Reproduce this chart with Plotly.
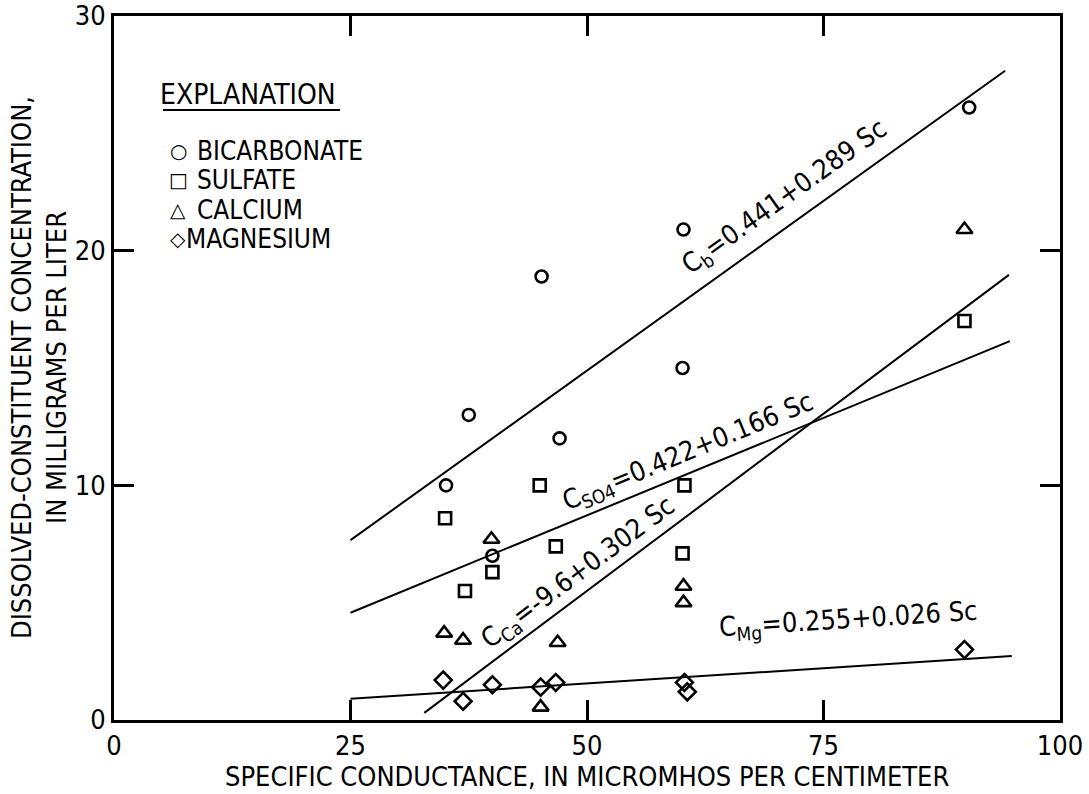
import math
import plotly.graph_objects as go

# Specific conductance (micromhos per centimeter) for each sample
sc_bicarbonate = [35.1, 37.5, 40.0, 45.2, 47.1, 60.1, 60.2, 90.4]
bicarbonate = [10.0, 13.0, 7.0, 18.9, 12.0, 15.0, 20.9, 26.1]

sc_sulfate = [35.0, 37.1, 40.0, 45.0, 46.7, 60.1, 60.3, 89.9]
sulfate = [8.6, 5.5, 6.3, 10.0, 7.4, 7.1, 10.0, 17.0]

sc_calcium = [34.9, 36.9, 39.9, 45.1, 46.9, 60.2, 60.2, 89.9]
calcium = [3.7, 3.4, 7.7, 0.55, 3.3, 5.7, 5.0, 20.9]

sc_magnesium = [34.8, 36.9, 40.0, 45.1, 46.7, 60.3, 60.6, 89.9]
magnesium = [1.7, 0.8, 1.5, 1.4, 1.6, 1.6, 1.2, 3.0]

# Regression fits: C = intercept + slope * Sc, drawn over the fitted range
fits = {
    "b":   {"intercept": 0.441, "slope": 0.289, "sc_range": (25.0, 94.2)},
    "SO4": {"intercept": 0.422, "slope": 0.166, "sc_range": (25.0, 94.7)},
    "Ca":  {"intercept": -9.6,  "slope": 0.302, "sc_range": (32.8, 94.6)},
    "Mg":  {"intercept": 0.255, "slope": 0.026, "sc_range": (25.0, 94.9)},
}
fit_labels = {
    "b":   "C<sub>b</sub>=0.441+0.289 Sc",
    "SO4": "C<sub>SO4</sub>=0.422+0.166 Sc",
    "Ca":  "C<sub>Ca</sub>=-9.6+0.302 Sc",
    "Mg":  "C<sub>Mg</sub>=0.255+0.026 Sc",
}

legend_names = ["BICARBONATE", "SULFATE", "CALCIUM", "MAGNESIUM"]
legend_glyphs = ["\u25cb", "\u25a1", "\u25b3", "\u25c7"]

x_ticks = [0, 25, 50, 75, 100]
y_ticks = [0, 10, 20, 30]

x_title = "SPECIFIC CONDUCTANCE, IN MICROMHOS PER CENTIMETER"
y_title = "DISSOLVED-CONSTITUENT CONCENTRATION,<br>IN MILLIGRAMS PER LITER"

FONT = "Liberation Sans Narrow, DejaVu Sans Condensed, Liberation Sans, sans-serif"
W, H = 1089, 794
M = dict(l=114, r=29, t=16, b=74)
X_RANGE = (0, 100)
Y_RANGE = (0, 30)
plot_w = W - M["l"] - M["r"]
plot_h = H - M["t"] - M["b"]
px_per_x = plot_w / (X_RANGE[1] - X_RANGE[0])
px_per_y = plot_h / (Y_RANGE[1] - Y_RANGE[0])


def paper_x(px):
    return (px - M["l"]) / plot_w


def paper_y(py):
    return (H - M["b"] - py) / plot_h


fig = go.Figure()

marker_line = dict(color="black", width=2.6)
series = [
    ("BICARBONATE", sc_bicarbonate, bicarbonate, "circle-open", 12),
    ("SULFATE", sc_sulfate, sulfate, "square-open", 12),
    ("CALCIUM", sc_calcium, calcium, "triangle-up-open", 14),
    ("MAGNESIUM", sc_magnesium, magnesium, "diamond-open", 13),
]
for name, xs, ys, sym, size in series:
    fig.add_trace(go.Scatter(
        x=xs, y=ys, mode="markers", name=name, showlegend=False,
        marker=dict(symbol=sym, size=size, color="black", line=marker_line),
        cliponaxis=False,
    ))

# label placement along each line: (Sc at label centre, offset above line in px)
label_pos = {"b": (72.5, 25), "SO4": (61.5, 20), "Ca": (50.3, 19), "Mg": (78.0, 46)}

for key, f in fits.items():
    x0, x1 = f["sc_range"]
    xs = [x0, x1]
    ys = [f["intercept"] + f["slope"] * v for v in xs]
    fig.add_trace(go.Scatter(
        x=xs, y=ys, mode="lines", showlegend=False,
        line=dict(color="black", width=2), hoverinfo="skip",
    ))
    xc, d = label_pos[key]
    yc = f["intercept"] + f["slope"] * xc
    theta = math.degrees(math.atan(f["slope"] * px_per_y / px_per_x))
    t = math.radians(theta)
    fig.add_annotation(
        x=xc, y=yc, xref="x", yref="y", text=fit_labels[key],
        showarrow=False, textangle=-theta,
        xshift=-d * math.sin(t), yshift=d * math.cos(t),
        font=dict(family=FONT, size=27, color="black"),
    )

# explanation block
fig.add_annotation(
    x=paper_x(158), y=paper_y(94), xref="paper", yref="paper",
    xanchor="left", yanchor="middle", text="EXPLANATION", showarrow=False,
    font=dict(family=FONT, size=28, color="black"),
)
fig.add_shape(type="line", xref="paper", yref="paper",
              x0=paper_x(163), x1=paper_x(340), y0=paper_y(110), y1=paper_y(110),
              line=dict(color="black", width=2))

row_y = [151, 180, 210, 239]
for i, (name, glyph) in enumerate(zip(legend_names, legend_glyphs)):
    fig.add_annotation(
        x=paper_x(178), y=paper_y(row_y[i]), xref="paper", yref="paper",
        xanchor="center", yanchor="middle", text="<b>" + glyph + "</b>", showarrow=False,
        font=dict(family="DejaVu Sans", size=20, color="black"),
    )
    fig.add_annotation(
        x=paper_x(184 if i == 3 else 195), y=paper_y(row_y[i]), xref="paper", yref="paper",
        xanchor="left", yanchor="middle", text=name, showarrow=False,
        font=dict(family=FONT, size=26, color="black"),
    )

# axis titles
fig.add_annotation(
    x=0.5, y=paper_y(H - 1), xref="paper", yref="paper", xanchor="center", yanchor="bottom",
    text=x_title, showarrow=False, borderpad=0,
    font=dict(family=FONT, size=27, color="black"),
)
fig.add_annotation(
    x=paper_x(4), y=0.5, xref="paper", yref="paper", xanchor="left", yanchor="middle",
    text=y_title, showarrow=False, textangle=-90,
    font=dict(family=FONT, size=27, color="black"),
)

axis_common = dict(
    showline=True, linecolor="black", linewidth=3, mirror="ticks",
    ticks="inside", ticklen=20, tickwidth=2.5, tickcolor="black",
    showgrid=False, zeroline=False, automargin=False,
    ticklabeloverflow="allow",
    tickfont=dict(family=FONT, size=27, color="black"),
)

fig.update_layout(
    width=W, height=H, margin=M,
    paper_bgcolor="white", plot_bgcolor="white",
    font=dict(family=FONT, color="black"),
    xaxis=dict(range=list(X_RANGE), tickvals=x_ticks, ticktext=[str(v) for v in x_ticks],
               **axis_common),
    yaxis=dict(range=list(Y_RANGE), tickvals=y_ticks, ticktext=[str(v) for v in y_ticks],
               **axis_common),
    showlegend=False,
)

fig.write_html("out.html")
